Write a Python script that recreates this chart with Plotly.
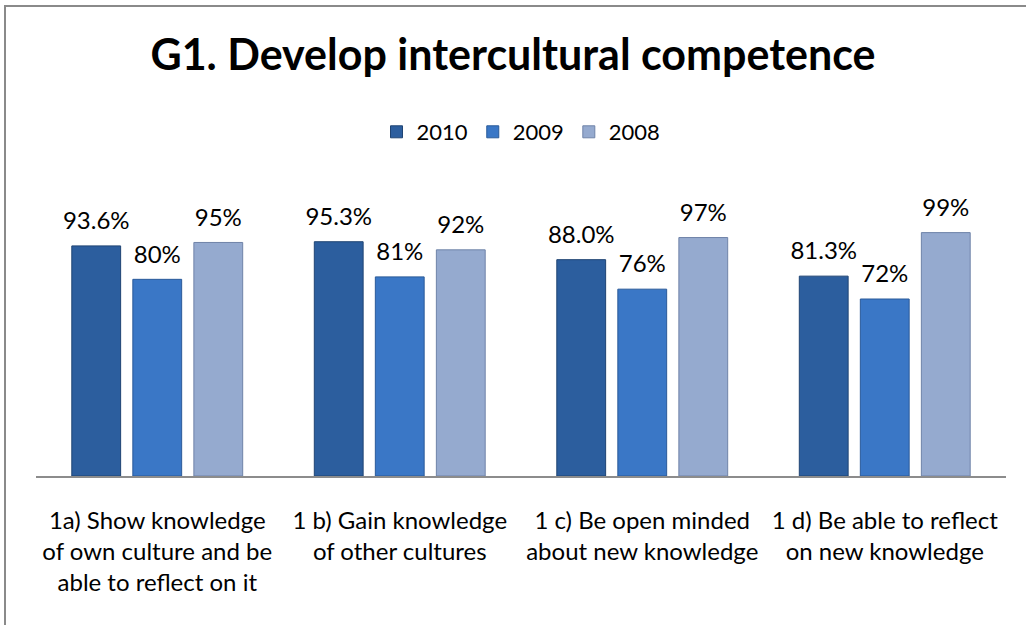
import plotly.graph_objects as go

categories = [
    "1a) Show knowledge<br>of own culture and be<br>able to reflect on it",
    "1 b) Gain knowledge<br>of other cultures",
    "1 c) Be open minded<br>about new knowledge",
    "1 d) Be able to reflect<br>on new knowledge",
]
years = ["2010", "2009", "2008"]
values_2010 = [93.6, 95.3, 88.0, 81.3]
values_2009 = [80, 81, 76, 72]
values_2008 = [95, 92, 97, 99]
labels_2010 = ["93.6%", "95.3%", "88.0%", "81.3%"]
labels_2009 = ["80%", "81%", "76%", "72%"]
labels_2008 = ["95%", "92%", "97%", "99%"]

colors = ["#2C5E9E", "#3A77C6", "#95AACF"]
line_colors = ["#1F4473", "#2A5A99", "#6F83A8"]

FONT = "Lato"


def fmt(label):
    # big label with a small spacer line below to lift it slightly off the bar
    return "<span style='font-size:24px'>" + label + "</span><br>&#160;"


fig = go.Figure()
for name, vals, labs, c, lc in zip(
    years,
    [values_2010, values_2009, values_2008],
    [labels_2010, labels_2009, labels_2008],
    colors,
    line_colors,
):
    fig.add_trace(
        go.Bar(
            name=name,
            x=categories,
            y=vals,
            text=[fmt(l) for l in labs],
            textposition="outside",
            constraintext="none",
            textfont=dict(family=FONT, size=9, color="#000000"),
            cliponaxis=False,
            marker=dict(color=c, line=dict(color=lc, width=1)),
            hoverinfo="skip",
        )
    )

fig.update_layout(
    width=1026,
    height=625,
    paper_bgcolor="white",
    plot_bgcolor="white",
    margin=dict(l=36, r=20, t=181, b=149),
    barmode="group",
    bargap=0.245,
    bargroupgap=0.2,
    title=dict(
        text="<b>G1. Develop intercultural competence</b>",
        x=0.5,
        xanchor="center",
        y=1 - 55 / 625,
        yref="container",
        yanchor="middle",
        font=dict(family=FONT, size=43, color="#000000"),
    ),
    legend=dict(
        orientation="h",
        x=0.5,
        xanchor="center",
        y=(476 - 132) / 295,
        yanchor="middle",
        font=dict(family=FONT, size=22, color="#000000"),
        itemwidth=30,
        traceorder="normal",
    ),
    showlegend=True,
)

fig.update_xaxes(
    showline=True,
    linecolor="#8C8C8C",
    linewidth=2,
    ticks="",
    showgrid=False,
    tickangle=0,
    tickfont=dict(family=FONT, size=24, color="#000000"),
    ticklabelstandoff=22,
)
fig.update_yaxes(
    range=[0, 120],
    visible=False,
    showgrid=False,
)

fig.add_shape(
    type="rect",
    xref="paper",
    yref="paper",
    x0=-31 / 970,
    x1=1.05,
    y0=-0.6,
    y1=(476 - 6) / 295,
    line=dict(color="#8A8A8A", width=2),
    fillcolor="rgba(0,0,0,0)",
    layer="below",
)

fig.write_html(
    "out.html",
    config={"displayModeBar": False},
    post_script="document.body.style.margin='0';document.body.style.overflow='hidden';",
)
